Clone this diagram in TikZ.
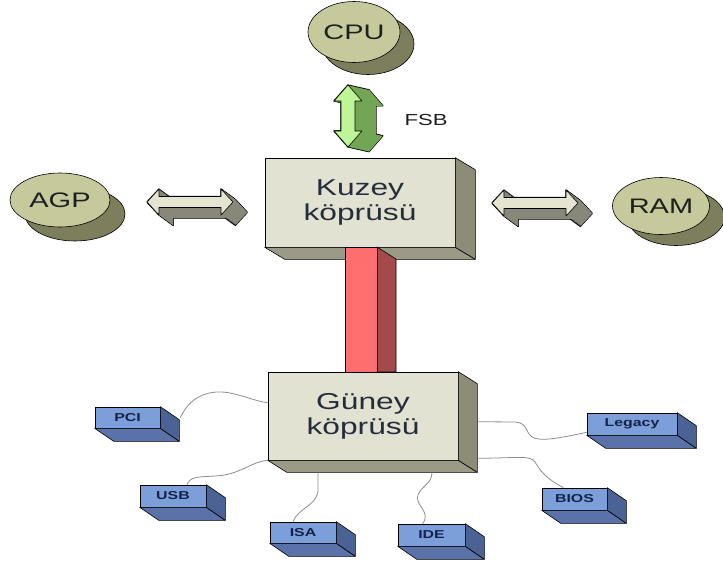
\documentclass[tikz,border=0pt]{standalone}
\usepackage{fontspec}
\usepackage{graphicx}
\setmainfont{Liberation Sans}
\usetikzlibrary{shapes.geometric,calc}
\newcommand{\wt}[1]{\scalebox{1.38}[1]{#1}}
\definecolor{ellfr}{HTML}{C6C99C}
\definecolor{ellsh}{HTML}{7D7E5C}
\definecolor{boxfr}{HTML}{E2E2D2}
\definecolor{boxside}{HTML}{8C8C78}
\definecolor{boxbot}{HTML}{9A9A86}
\definecolor{redfr}{HTML}{FF6F6F}
\definecolor{redside}{HTML}{A34A4A}
\definecolor{bluefr}{HTML}{7C9FDA}
\definecolor{blueside}{HTML}{4A6294}
\definecolor{bluebot}{HTML}{5A72A8}
\definecolor{grfr}{HTML}{BEF596}
\definecolor{grside}{HTML}{72A655}
\definecolor{hfr}{HTML}{E4E4D0}
\definecolor{hdark}{HTML}{87877A}
\definecolor{txt}{HTML}{262D3A}
\definecolor{navy}{HTML}{15234A}
\definecolor{cable}{HTML}{8E8E8E}
\tikzset{
  ellfront/.style={ellipse, fill=ellfr, draw=black, line width=0.6pt, inner sep=0pt,
    font=\fontsize{21}{24}\selectfont, text=black!88},
  ellshadow/.style={ellipse, fill=ellsh, draw=black, line width=0.6pt, inner sep=0pt},
  bigbox/.style={rectangle, fill=boxfr, draw=black, line width=0.6pt, inner sep=0pt,
    minimum width=190pt, align=center, text=txt,
    font=\fontsize{23}{25}\selectfont},
  smallbox/.style={rectangle, fill=bluefr, draw=black, line width=0.6pt, inner sep=0pt,
    minimum height=22pt, text=navy, font=\bfseries\fontsize{11.5}{13}\selectfont},
  cableline/.style={draw=cable, line width=0.8pt},
  harrow/.pic={\path[pic actions] (-43,0) -- (-31,-13) -- (-31,-5.5) -- (31,-5.5) -- (31,-13)
     -- (43,0) -- (31,13) -- (31,5.5) -- (-31,5.5) -- (-31,13) -- cycle;},
  varrow/.pic={\path[pic actions] (0,-31) -- (14,-15) -- (7,-15) -- (7,15) -- (14,15)
     -- (0,31) -- (-14,15) -- (-7,15) -- (-7,-15) -- (-14,-15) -- cycle;}
}
\newcommand{\extrudebox}[5]{%
  \filldraw[fill=#5, draw=black, line width=0.6pt] (#1.south west) -- (#1.south east)
     -- ++(#2,#3) -- ($(#1.south west)+(#2,#3)$) -- cycle;
  \filldraw[fill=#4, draw=black, line width=0.6pt] (#1.north east) -- ++(#2,#3)
     -- ($(#1.south east)+(#2,#3)$) -- (#1.south east) -- cycle;}
\begin{document}
\begin{tikzpicture}[x=1pt, y=-1pt, line join=round]
\useasboundingbox (0,0) rectangle (723,565);
\fill[white] (0,0) rectangle (723,565);

% ellipses
\node[ellshadow, minimum width=92pt, minimum height=61pt] (cpush) at (368,44) {};
\node[ellfront, minimum width=92pt, minimum height=61pt] (cpu) at (354,32) {\wt{CPU}};
\node[ellshadow, minimum width=100pt, minimum height=54pt] (agpsh) at (75,214) {};
\node[ellfront, minimum width=100pt, minimum height=54pt] (agp) at (60,200) {\wt{AGP}};
\node[ellshadow, minimum width=97pt, minimum height=57pt] (ramsh) at (676,217) {};
\node[ellfront, minimum width=97pt, minimum height=57pt] (ram) at (661,206) {\wt{RAM}};

% FSB arrow
\coordinate (fa) at (348,116);
\foreach \t in {0,0.05,...,1.0} \pic[draw=black, line width=1.3pt] at ($(fa)+\t*(22,5)$) {varrow};
\foreach \t in {0,0.05,...,1.0} \pic[fill=grside] at ($(fa)+\t*(22,5)$) {varrow};
\pic[fill=grfr, draw=black, line width=0.6pt] at (fa) {varrow};
\node[font=\fontsize{16}{18}\selectfont, text=black!88] (fsb) at (426,120) {\wt{FSB}};

% horizontal arrows
\coordinate (la) at (190,202);
\coordinate (ra) at (535,203);
\foreach \c in {la,ra}{
  \foreach \t in {0,0.05,...,1.0} \pic[draw=black, line width=1.3pt] at ($(\c)+\t*(15,11)$) {harrow};
  \foreach \t in {0,0.05,...,1.0} \pic[fill=hdark] at ($(\c)+\t*(15,11)$) {harrow};
  \pic[fill=hfr, draw=black, line width=0.6pt] at (\c) {harrow};
}

% Kuzey koprusu
\node[bigbox, minimum height=89pt] (kuzey) at (360,202.5) {\wt{Kuzey}\\\wt{köprüsü}};
\extrudebox{kuzey}{20}{12}{boxside}{boxbot}

% red bus
\coordinate (rtop) at ($(kuzey.south)+(-15,0)$);
\coordinate (rbot) at (377,372);
\fill[redside, draw=black, line width=0.6pt] (377,247) -- (396,259) -- (396,372) -- (rbot) -- cycle;
\filldraw[fill=redfr, draw=black, line width=0.6pt] (rtop) rectangle (rbot);

% Guney koprusu
\node[bigbox, minimum height=88pt] (guney) at (363,416) {\wt{Güney}\\\wt{köprüsü}};
\extrudebox{guney}{19}{12}{boxside}{boxbot}

% small boxes
\node[smallbox, minimum width=65pt, minimum height=21pt] (pci) at (127.5,417.5) {\wt{PCI}};
\node[smallbox, minimum width=66pt] (usb) at (173,496) {\wt{USB}};
\node[smallbox, minimum width=66pt, minimum height=21pt] (isa) at (303,532.5) {\wt{ISA}};
\node[smallbox, minimum width=67pt] (ide) at (431.5,535) {\wt{IDE}};
\node[smallbox, minimum width=65pt] (bios) at (574.5,499) {\wt{BIOS}};
\node[smallbox, minimum width=90pt] (legacy) at (632,424) {\wt{Legacy}};
\foreach \b in {pci,usb,isa,ide,bios,legacy}{\extrudebox{\b}{19}{13}{blueside}{bluebot}}

% cables
\draw[cableline] ($(pci.north east)+(20,11)$) .. controls (192,392) and (215,390) .. (230,393)
   .. controls (245,396) and (255,401) .. ($(guney.north west)+(0,31)$);
\draw[cableline] ($(usb.north)+(14,0)$) .. controls (190,476) and (200,477) .. (215,476)
   .. controls (240,475) and (250,462) .. (guney.south west);
\draw[cableline] ($(isa.north)+(-10,0)$) .. controls (298,508) and (318,505) .. (318,490)
   -- ($(guney.south)+(-45,12)$);
\draw[cableline] ($(ide.north)+(-9,0)$) .. controls (432,512) and (414,505) .. (418,495)
   .. controls (422,485) and (432,484) .. ($(guney.south)+(69,12)$);
\draw[cableline] ($(bios.north)+(-11,0)$) .. controls (545,478) and (540,470) .. (535,462)
   .. controls (530,455) and (520,458) .. ($(guney.south east)+(19,-2)$);
\draw[cableline] ($(legacy.south west)+(0,-3)$) .. controls (560,438) and (540,442) .. (532,437)
   .. controls (525,432) and (528,423) .. (515,422) -- ($(guney.north east)+(19,50)$);
\end{tikzpicture}
\end{document}
